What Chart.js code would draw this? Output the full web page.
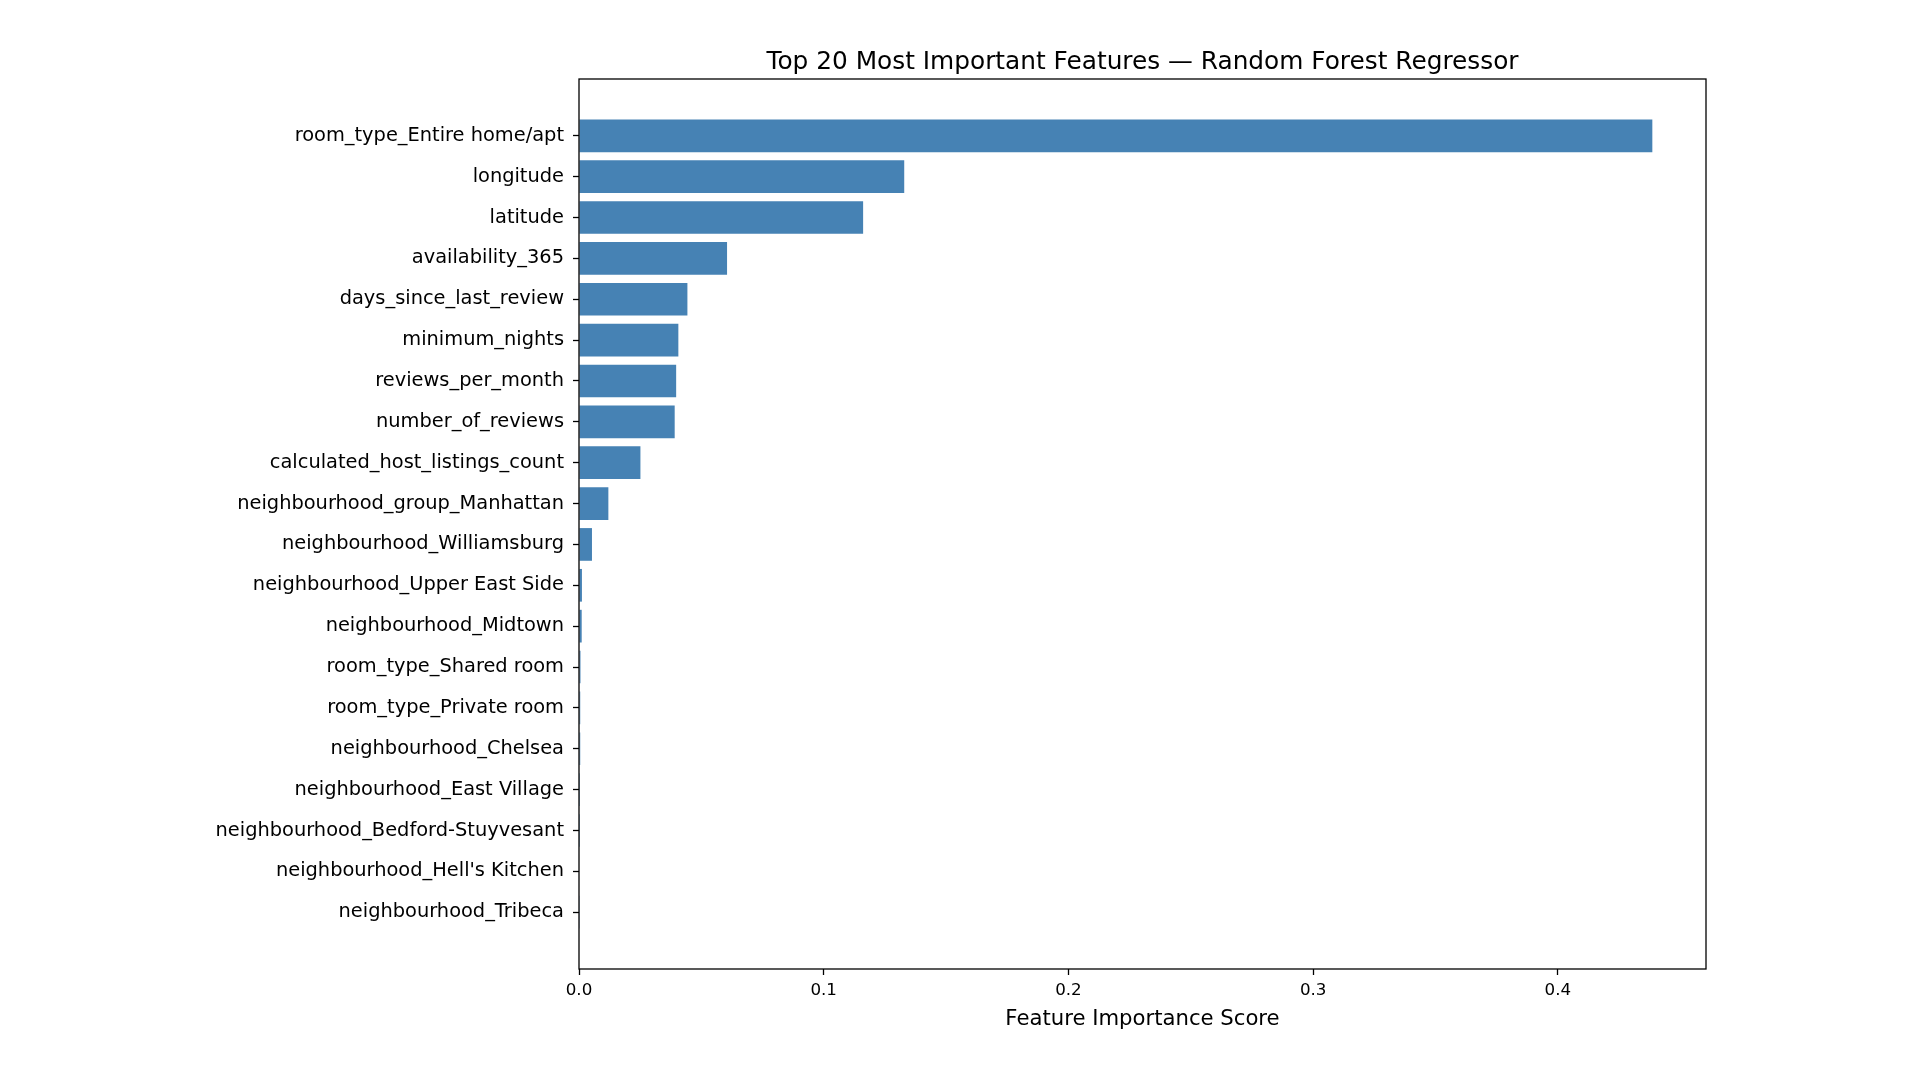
<!DOCTYPE html>
<html>
<head>
<meta charset="utf-8">
<script src="https://cdn.jsdelivr.net/npm/chart.js@4.4.1/dist/chart.umd.min.js"></script>
<style>
  html, body { margin: 0; padding: 0; background: #fff; }
  canvas { display: block; }
</style>
</head>
<body>
<canvas id="chart" width="1920" height="1080"></canvas>
<script>
// feature names, most important first
var features = [
    "room_type_Entire home/apt",
    "longitude",
    "latitude",
    "availability_365",
    "days_since_last_review",
    "minimum_nights",
    "reviews_per_month",
    "number_of_reviews",
    "calculated_host_listings_count",
    "neighbourhood_group_Manhattan",
    "neighbourhood_Williamsburg",
    "neighbourhood_Upper East Side",
    "neighbourhood_Midtown",
    "room_type_Shared room",
    "room_type_Private room",
    "neighbourhood_Chelsea",
    "neighbourhood_East Village",
    "neighbourhood_Bedford-Stuyvesant",
    "neighbourhood_Hell's Kitchen",
    "neighbourhood_Tribeca"
];
var importance = [
    0.4386, 0.1329, 0.1161, 0.0605, 0.0443, 0.0406, 0.0397, 0.0391, 0.0251, 0.0120,
    0.0053, 0.0012, 0.0011, 0.0006, 0.0005, 0.0005, 0.0004, 0.0004, 0.0002, 0.0001
];
var xTicks = [0.0, 0.1, 0.2, 0.3, 0.4];

var chartTitle = "Top 20 Most Important Features \u2014 Random Forest Regressor";
var fontFamily = "'DejaVu Sans', sans-serif";

// matplotlib-like margins (5% of data extent)
var n = features.length;
var yMargin = 0.05 * (n - 1 + 0.8);
var xMax = Math.max.apply(null, importance) * 1.05;

var framePlugin = {
    id: 'frame',
    afterDraw: function(chart) {
        var ctx = chart.ctx, a = chart.chartArea;
        ctx.save();
        ctx.strokeStyle = '#000';
        ctx.lineWidth = 1.3;
        ctx.strokeRect(a.left, a.top, a.right - a.left, a.bottom - a.top);
        // title centred over the axes
        ctx.fillStyle = '#000';
        ctx.font = "24.8px " + fontFamily;
        ctx.textAlign = 'center';
        ctx.textBaseline = 'alphabetic';
        ctx.fillText(chartTitle, (a.left + a.right) / 2, 69);
        ctx.restore();
    }
};

var context = document.getElementById("chart").getContext("2d");
var barChart = new Chart(context, {
    type: 'bar',
    data: {
        datasets: [{
            data: importance.map(function(v, i) { return {x: v, y: i}; }),
            backgroundColor: '#4682B4',
            borderWidth: 0,
            categoryPercentage: 1.0,
            barPercentage: 0.8
        }]
    },
    options: {
        indexAxis: 'y',
        responsive: false,
        animation: false,
        devicePixelRatio: 1,
        layout: { padding: { top: 79, right: 214, bottom: 0, left: 0 } },
        plugins: {
            legend: { display: false },
            tooltip: { enabled: false },
            title: { display: false }
        },
        scales: {
            x: {
                type: 'linear',
                min: 0,
                max: xMax,
                afterFit: function(scale) { scale.height = 111; },
                afterBuildTicks: function(scale) {
                    scale.ticks = xTicks.map(function(v) { return {value: v}; });
                },
                ticks: {
                    color: '#000',
                    font: { family: fontFamily, size: 16.7 },
                    padding: 6,
                    maxRotation: 0,
                    callback: function(v) { return Number(v).toFixed(1); }
                },
                grid: {
                    drawOnChartArea: false,
                    drawTicks: true,
                    tickLength: 6,
                    tickColor: '#000',
                    tickWidth: 1.3
                },
                border: { display: false },
                title: {
                    display: true,
                    text: 'Feature Importance Score',
                    color: '#000',
                    font: { family: fontFamily, size: 21.2 },
                    padding: { top: 0, bottom: 48 }
                }
            },
            y: {
                type: 'linear',
                reverse: true,
                offset: false,
                min: -0.4 - yMargin,
                max: n - 1 + 0.4 + yMargin,
                afterFit: function(scale) { scale.width = 579; },
                afterBuildTicks: function(scale) {
                    scale.ticks = features.map(function(f, i) { return {value: i}; });
                },
                ticks: {
                    color: '#000',
                    font: { family: fontFamily, size: 19.4 },
                    padding: 9,
                    autoSkip: false,
                    callback: function(v) { return features[v]; }
                },
                grid: {
                    offset: false,
                    drawOnChartArea: false,
                    drawTicks: true,
                    tickLength: 6,
                    tickColor: '#000',
                    tickWidth: 1.3
                },
                border: { display: false }
            }
        }
    },
    plugins: [framePlugin]
});
</script>
</body>
</html>
